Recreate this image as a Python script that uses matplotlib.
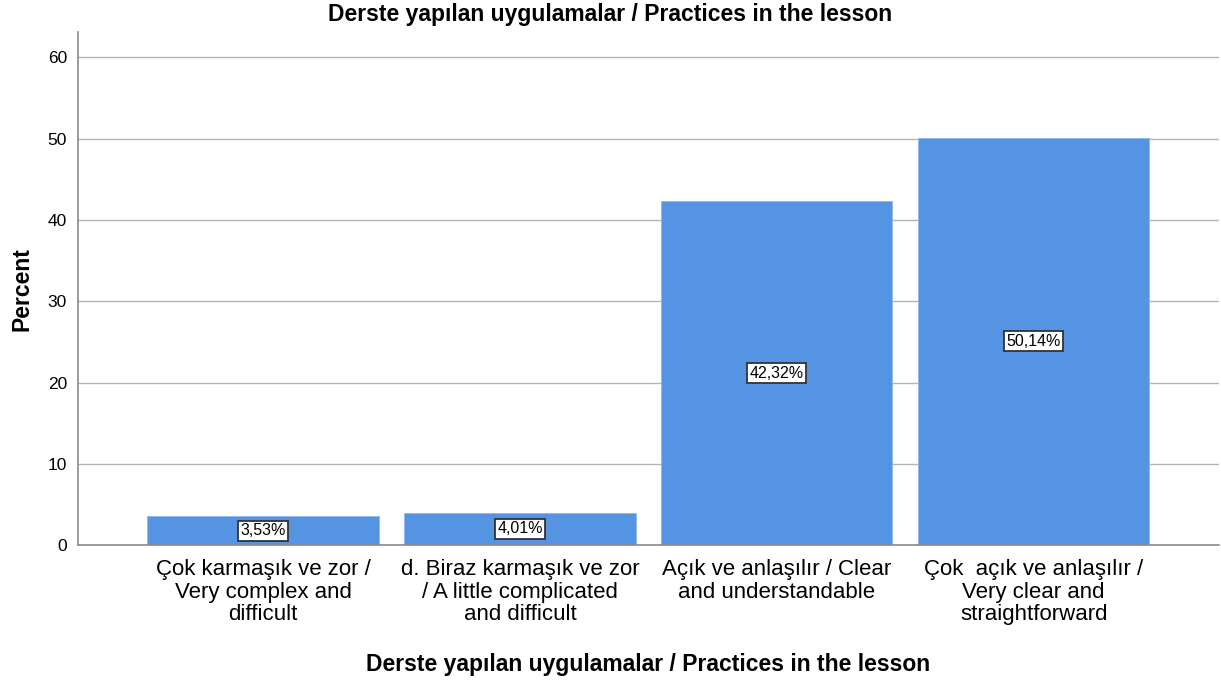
import matplotlib.pyplot as plt

plt.rcParams['font.family'] = ['Liberation Sans', 'DejaVu Sans']

# Chart data
categories = [
    'Çok karmaşık ve zor /\nVery complex and\ndifficult',
    'd. Biraz karmaşık ve zor\n/ A little complicated\nand difficult',
    'Açık ve anlaşılır / Clear\nand understandable',
    'Çok  açık ve anlaşılır /\nVery clear and\nstraightforward',
]
percents = [3.53, 4.01, 42.32, 50.14]
bar_labels = ['3,53%', '4,01%', '42,32%', '50,14%']
yticks = [0, 10, 20, 30, 40, 50, 60]

fig = plt.figure(figsize=(12.21, 6.84), dpi=100)
ax = fig.add_axes([0.064, 0.203, 0.934, 0.750])

x = range(len(categories))
ax.bar(x, percents, width=0.9, color='#5594e2', edgecolor='#8fb8ee', linewidth=0.6, zorder=2)

# value boxes at the middle of each bar
for i, (v, lab) in enumerate(zip(percents, bar_labels)):
    ax.text(i, v / 2, lab, ha='center', va='center', fontsize=11.5, zorder=3,
            bbox=dict(boxstyle='square,pad=0.15', facecolor='white', edgecolor='#333333', linewidth=1.3))

ax.set_xlim(-0.72, 3.72)
ax.set_ylim(0, 63.1)
ax.set_yticks(yticks)
ax.set_yticklabels([str(t) for t in yticks], fontsize=12.5)
ax.set_xticks(list(x))
ax.set_xticklabels(categories, fontsize=16, linespacing=1.1)
ax.tick_params(axis='both', length=0)
ax.tick_params(axis='y', pad=8)
ax.tick_params(axis='x', pad=10)

ax.grid(axis='y', color='#b4b4b4', linewidth=1.0, zorder=0)
for side in ['top', 'right']:
    ax.spines[side].set_visible(False)
for side in ['left', 'bottom']:
    ax.spines[side].set_color('#8a8a8a')
    ax.spines[side].set_linewidth(1.2)

fig.text(0.5, 0.979, 'Derste yapılan uygulamalar / Practices in the lesson', fontsize=16.5,
         fontweight='bold', ha='center', va='center')
ax.set_ylabel('Percent', fontsize=16.5, fontweight='bold', labelpad=10)
ax.set_xlabel('Derste yapılan uygulamalar / Practices in the lesson', fontsize=16.5,
              fontweight='bold', labelpad=20)

fig.savefig('out.png', dpi=100)
